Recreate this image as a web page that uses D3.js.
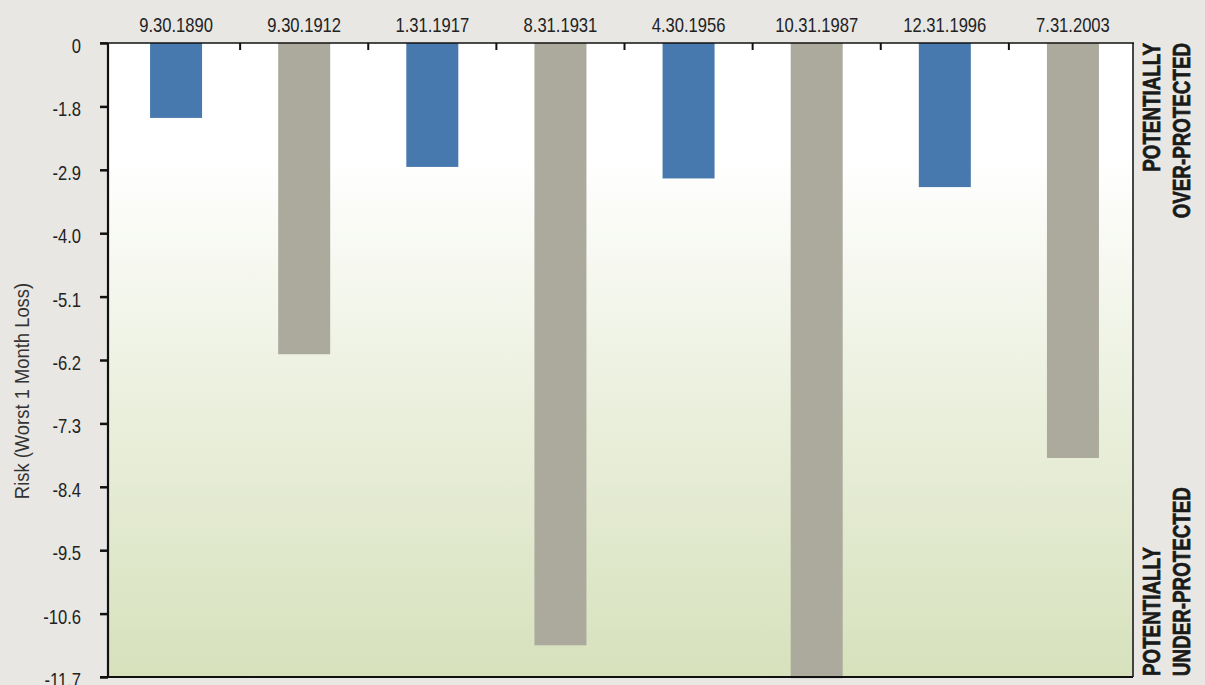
<!DOCTYPE html>
<html>
<head>
<meta charset="utf-8">
<script src="https://cdn.jsdelivr.net/npm/d3@7"></script>
<style>
  html, body { margin: 0; padding: 0; background: #e8e7e3; }
  svg { display: block; }
  text { font-family: "Liberation Sans", Arial, sans-serif; }
</style>
</head>
<body>
<script>
// ---- data ----
const categories = ["9.30.1890", "9.30.1912", "1.31.1917", "8.31.1931", "4.30.1956", "10.31.1987", "12.31.1996", "7.31.2003"];
const values = [-2.0, -6.1, -2.85, -11.15, -3.05, -11.7, -3.2, -7.9];
const groups = ["a", "b", "a", "b", "a", "b", "a", "b"];
const tickValues = [-0.7, -1.8, -2.9, -4.0, -5.1, -6.2, -7.3, -8.4, -9.5, -10.6, -11.7];
const tickLabels = ["0", "-1.8", "-2.9", "-4.0", "-5.1", "-6.2", "-7.3", "-8.4", "-9.5", "-10.6", "-11.7"];
const yTitle = "Risk (Worst 1 Month Loss)";
const overLabel = ["POTENTIALLY", "OVER-PROTECTED"];
const underLabel = ["POTENTIALLY", "UNDER-PROTECTED"];

// ---- layout ----
const W = 1205, H = 685;
const plotL = 108, plotR = 1133, plotT = 43, plotB = 677;
const bandL = 112, bandR = 1137;
const narrow = 0.83;

const svg = d3.select("body").append("svg").attr("width", W).attr("height", H);

const defs = svg.append("defs");
const grad = defs.append("linearGradient").attr("id", "bg").attr("x1", 0).attr("y1", 0).attr("x2", 0).attr("y2", 1);
grad.append("stop").attr("offset", "0%").attr("stop-color", "#ffffff");
grad.append("stop").attr("offset", "18%").attr("stop-color", "#ffffff");
grad.append("stop").attr("offset", "50%").attr("stop-color", "#eef2e3");
grad.append("stop").attr("offset", "100%").attr("stop-color", "#d7e1bc");
defs.append("clipPath").attr("id", "clip").append("rect")
  .attr("x", plotL).attr("y", plotT).attr("width", plotR - plotL).attr("height", plotB - plotT + 1.5);

const x = d3.scaleBand().domain(categories).range([bandL, bandR]).paddingInner(0).paddingOuter(0);
const y = d3.scaleLinear().domain([tickValues[0], tickValues[tickValues.length - 1]]).range([plotT, plotB]);
const color = d3.scaleOrdinal().domain(["a", "b"]).range(["#4779ae", "#aca99d"]);
const barW = 52;

// background
svg.append("rect").attr("x", plotL).attr("y", plotT).attr("width", plotR - plotL).attr("height", plotB - plotT)
  .attr("fill", "url(#bg)");

// bars
svg.append("g").attr("clip-path", "url(#clip)")
  .selectAll("rect").data(categories).join("rect")
  .attr("x", (d) => x(d) + x.bandwidth() / 2 - barW / 2)
  .attr("y", y(tickValues[0]))
  .attr("width", barW)
  .attr("height", (d, i) => Math.max(0, y(values[i]) - y(tickValues[0])) + (values[i] <= tickValues[tickValues.length - 1] ? 1.5 : 0))
  .attr("fill", (d, i) => color(groups[i]));

// right border
svg.append("line").attr("x1", plotR).attr("x2", plotR).attr("y1", plotT).attr("y2", plotB)
  .attr("stroke", "#1a1a1a").attr("stroke-width", 1.6);

// bottom line
svg.append("line").attr("x1", 100).attr("x2", plotR).attr("y1", plotB).attr("y2", plotB)
  .attr("stroke", "#111").attr("stroke-width", 2);

// top axis (categories)
const topAxis = d3.axisTop(x).tickSize(0).tickPadding(11);
const gTop = svg.append("g").attr("transform", `translate(0,${plotT})`).call(topAxis);
gTop.select(".domain").remove();
gTop.selectAll("text").attr("font-size", 20).attr("fill", "#222")
  .attr("transform", `scale(${narrow},1)`);
// separator ticks between categories
svg.append("g").selectAll("line").data(categories.slice(1)).join("line")
  .attr("x1", (d) => x(d)).attr("x2", (d) => x(d))
  .attr("y1", plotT).attr("y2", plotT + 7)
  .attr("stroke", "#111").attr("stroke-width", 2);
svg.append("line").attr("x1", 100).attr("x2", plotR + 1).attr("y1", plotT).attr("y2", plotT)
  .attr("stroke", "#111").attr("stroke-width", 1.6);

// left axis
const leftAxis = d3.axisLeft(y).tickValues(tickValues).tickFormat((d, i) => tickLabels[i]).tickSize(8).tickPadding(19);
const gLeft = svg.append("g").attr("transform", `translate(${plotL},0)`).call(leftAxis);
gLeft.select(".domain").attr("stroke", "#111").attr("stroke-width", 2.2)
  .attr("d", `M0,${plotT}V${plotB + 1}`);
gLeft.selectAll(".tick line").attr("stroke", "#111").attr("stroke-width", 2.5);
gLeft.selectAll("text").attr("font-size", 20).attr("fill", "#222")
  .attr("x", -27 / narrow).attr("dy", "0.47em")
  .attr("transform", `scale(${narrow},1)`);

// y title
svg.append("text")
  .attr("transform", `translate(29,${(plotT + plotB) / 2 + 31}) rotate(-90) scale(0.92,1)`)
  .attr("text-anchor", "middle")
  .attr("font-size", 20)
  .attr("fill", "#333")
  .text(yTitle);

// right side labels
const rightLabel = (lines, anchor, yPos) => {
  lines.forEach((t, i) => {
    svg.append("text")
      .attr("transform", `translate(${1160 + i * 30},${yPos}) rotate(-90) scale(0.8,1)`)
      .attr("text-anchor", anchor)
      .attr("font-size", 23.5)
      .attr("font-weight", "bold")
      .attr("fill", "#1a1a1a")
      .attr("stroke", "#1a1a1a")
      .attr("stroke-width", 0.7)
      .text(t);
  });
};
rightLabel(overLabel, "end", plotT);
rightLabel(underLabel, "start", plotB - 1);
</script>
</body>
</html>
